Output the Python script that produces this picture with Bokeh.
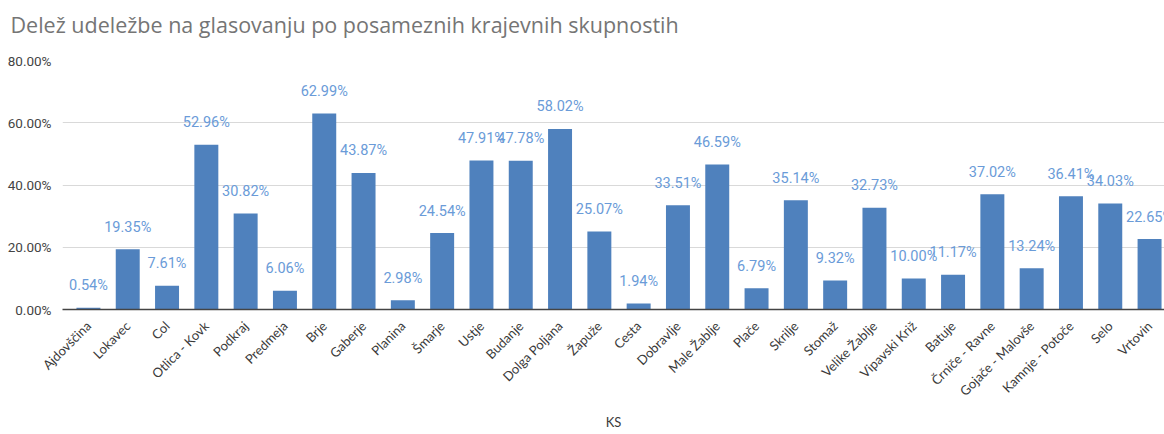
import math
from bokeh.plotting import figure
from bokeh.models import ColumnDataSource, Range1d, FixedTicker, Title
from bokeh.embed import file_html
from bokeh.resources import INLINE

title_text = "Delež udeležbe na glasovanju po posameznih krajevnih skupnostih"
categories = ["Ajdovščina", "Lokavec", "Col", "Otlica - Kovk", "Podkraj", "Predmeja", "Brje",
              "Gaberje", "Planina", "Šmarje", "Ustje", "Budanje", "Dolga Poljana", "Žapuže",
              "Cesta", "Dobravlje", "Male Žablje", "Plače", "Skrilje", "Stomaž", "Velike Žablje",
              "Vipavski Križ", "Batuje", "Črniče - Ravne", "Gojače - Malovše", "Kamnje - Potoče",
              "Selo", "Vrtovin"]
values = [0.54, 19.35, 7.61, 52.96, 30.82, 6.06, 62.99, 43.87, 2.98, 24.54, 47.91, 47.78,
          58.02, 25.07, 1.94, 33.51, 46.59, 6.79, 35.14, 9.32, 32.73, 10.00, 11.17, 37.02,
          13.24, 36.41, 34.03, 22.65]
y_ticks = [0, 20, 40, 60, 80]
y_tick_labels = ["0.00%", "20.00%", "40.00%", "60.00%", "80.00%"]

xs = list(range(len(categories)))
src = ColumnDataSource(dict(x=xs, top=values, label=[f"{v:.2f}%" for v in values]))

p = figure(width=1164, height=434, output_backend="svg", toolbar_location=None,
           x_range=Range1d(-0.66, 27.38), y_range=Range1d(0, 80),
           min_border_left=62, min_border_right=0, min_border_top=60, min_border_bottom=125)
p.outline_line_color = None
p.background_fill_color = "white"
p.border_fill_color = "white"

# spacer panel next to the frame, then the real title above it
p.add_layout(Title(text=" ", text_font_size="1px", standoff=12), "above")
p.add_layout(Title(text=title_text, text_font="Open Sans", text_font_size="21.5px",
                   text_font_style="normal", text_color="#757575", align="left",
                   offset=-52, standoff=14), "above")

p.vbar(x="x", top="top", width=0.61, bottom=0, source=src, fill_color="#4f81bd", line_color=None)
p.text(x="x", y="top", text="label", source=src, y_offset=-22, text_align="center",
       text_baseline="middle", text_font_size="14.5px", text_color="#6a9bd8",
       text_font={"value": "Roboto"})

p.xgrid.grid_line_color = None
p.ygrid.grid_line_color = "#d9d9d9"
p.ygrid.grid_line_width = 1

p.yaxis.ticker = FixedTicker(ticks=y_ticks)
p.yaxis.major_label_overrides = dict(zip(y_ticks, y_tick_labels))
p.yaxis.axis_line_color = None
p.yaxis.major_tick_line_color = None
p.yaxis.minor_tick_line_color = None
p.yaxis.major_label_text_font = "Roboto"
p.yaxis.major_label_text_font_size = "13.5px"
p.yaxis.major_label_text_color = "#444444"
p.yaxis.major_label_standoff = 5

p.xaxis.ticker = FixedTicker(ticks=xs)
p.xaxis.major_label_overrides = {i: c for i, c in zip(xs, categories)}
p.xaxis.major_label_orientation = math.pi / 4
p.xaxis.axis_line_color = "#444444"
p.xaxis.axis_line_width = 1.5
p.xaxis.major_tick_line_color = None
p.xaxis.minor_tick_line_color = None
p.xaxis.major_label_text_font = "Lato"
p.xaxis.major_label_text_font_size = "13px"
p.xaxis.major_label_text_color = "#3a3a3a"
p.xaxis.major_label_standoff = 8
p.xaxis.axis_label = "KS"
p.xaxis.axis_label_text_font = "Lato"
p.xaxis.axis_label_text_font_style = "normal"
p.xaxis.axis_label_text_font_size = "13px"
p.xaxis.axis_label_text_color = "#3a3a3a"
p.xaxis.axis_label_standoff = 7

open("out.html", "w").write(file_html(p, INLINE))
